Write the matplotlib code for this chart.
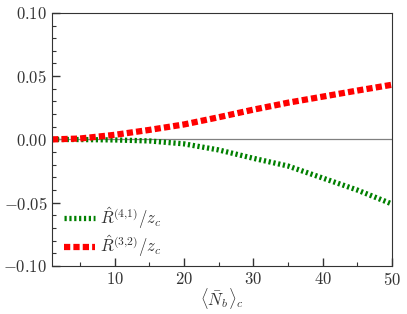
import matplotlib
matplotlib.use('Agg')
import numpy as np
import matplotlib.pyplot as plt

plt.rcParams['font.family'] = 'serif'
plt.rcParams['font.serif'] = ['cmr10']
plt.rcParams['mathtext.fontset'] = 'cm'
plt.rcParams['axes.formatter.use_mathtext'] = True

nb = [1, 5, 10, 15, 20, 25, 30, 35, 40, 45, 50]
r41 = [0.0, -0.0001, -0.0004, -0.0012, -0.0035, -0.0083, -0.0149, -0.021, -0.0305, -0.040, -0.051]
r32 = [0.0, 0.0007, 0.0036, 0.0075, 0.0118, 0.0175, 0.0235, 0.029, 0.0338, 0.0386, 0.0432]

fig = plt.figure(figsize=(4.07, 3.14), dpi=100)
ax = fig.add_axes([0.128, 0.153, 0.835, 0.806])

ax.axhline(0, color='gray', lw=0.9)
ax.plot(nb, r41, color='green', lw=3.8, ls=(0, (0.42, 0.5)), label=r'$\hat{R}^{(4{,}1)}/z_c$')
ax.plot(nb, r32, color='red', lw=4.5, ls=(0, (1.0, 0.5)), label=r'$\hat{R}^{(3{,}2)}/z_c$')

ax.set_xlim(1, 50)
ax.set_ylim(-0.1, 0.1)
ax.set_xticks([10, 20, 30, 40, 50])
ax.set_xticks(np.arange(5, 51, 5), minor=True)
ax.set_yticks([-0.10, -0.05, 0.0, 0.05, 0.10])
ax.set_yticks(np.arange(-0.1, 0.101, 0.01), minor=True)
ax.set_yticklabels(['$-0.10$', '$-0.05$', '$0.00$', '$0.05$', '$0.10$'])
ax.set_xticklabels(['$10$', '$20$', '$30$', '$40$', '$50$'])
ax.tick_params(which='both', direction='in', labelsize=12, colors='#333333', labelcolor='#333333')
ax.tick_params(which='major', length=6, width=1)
ax.tick_params(which='minor', length=3, width=0.8)
for s in ax.spines.values():
    s.set_color('#333333')
ax.set_xlabel(r'$\langle \bar{N}_b \rangle_c$', fontsize=12, color='#333333', labelpad=-1)

ax.legend(loc='lower left', bbox_to_anchor=(0.0, -0.02), frameon=False, fontsize=12,
          handlelength=1.9, borderaxespad=0.3, handletextpad=0.3, labelspacing=0.15,
          labelcolor='#333333')

plt.savefig('out.png', dpi=100)
